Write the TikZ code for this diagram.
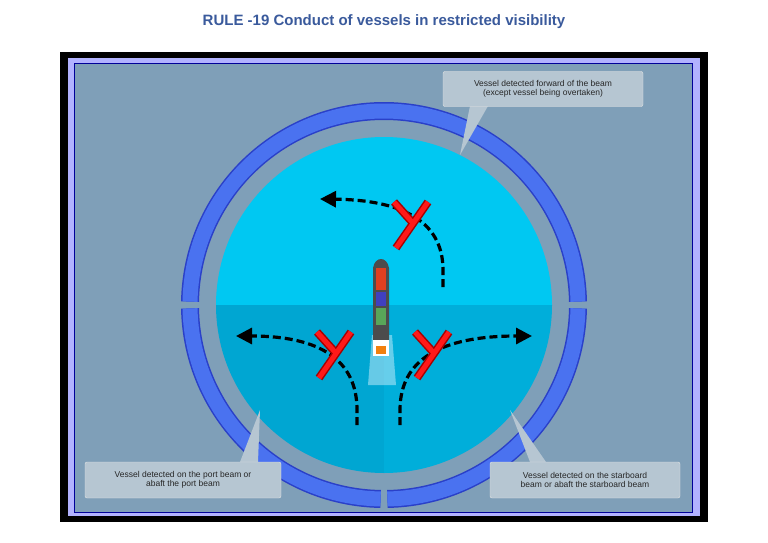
\documentclass[tikz,border=0pt]{standalone}
\usepackage{fontspec}
\setmainfont{Liberation Sans}
\usetikzlibrary{arrows.meta,calc}
\definecolor{panel}{HTML}{7F9FB8}
\definecolor{ring}{HTML}{4A72F0}
\definecolor{ringd}{HTML}{2A40C8}
\definecolor{seaup}{HTML}{00C8F2}
\definecolor{sealo}{HTML}{00A6D2}
\definecolor{sealo2}{HTML}{00AEDA}
\definecolor{callf}{HTML}{B6C6D2}
\definecolor{titlec}{HTML}{3A5A9C}
\tikzset{
  callout/.style={fill=callf,draw=white!80!gray,rounded corners=2pt,font=\fontsize{8.5}{9.5}\selectfont,align=center,text=black!85},
  route/.style={line width=3.2pt,dash pattern=on 8pt off 4pt,-{Triangle[length=16pt,width=16pt]}},
  xred/.style={line width=8pt,draw=red!65!black,line cap=butt},
  xredi/.style={line width=5pt,draw=red!90!white,line cap=butt},
  ringseg/.style={line width=18pt,draw=ringd},
  ringsegi/.style={line width=15pt,draw=ring}
}
\begin{document}
\begin{tikzpicture}[x=1pt,y=-1pt]
\useasboundingbox[fill=white] (0,0) rectangle (768,543);
\node[font=\bfseries\fontsize{15}{17}\selectfont,text=titlec] (title) at (384,22) {RULE -19 Conduct of vessels in restricted visibility};
\fill[black] (60,52) rectangle (708,522);
\fill[white!70!blue] (68,58) rectangle (700,516);
\fill[panel,draw=blue!60!black,line width=1pt] (74,64) rectangle (692,512);
% ring
\coordinate (c) at (384,305);
\begin{scope}
\clip (68,58) rectangle (700,512);
\foreach \a/\b in {181/359, 1/89, 91/179}{
  \draw[ringseg] ($(c)+(\a:194)$) arc[start angle=\a,end angle=\b,radius=194];
  \draw[ringsegi] ($(c)+(\a:194)$) arc[start angle=\a,end angle=\b,radius=194];
}
\end{scope}
% sea
\fill[seaup] (216,305) arc[start angle=180,end angle=360,radius=168] -- cycle;
\fill[sealo] (216,305) arc[start angle=180,end angle=90,radius=168] -- (384,305) -- cycle;
\fill[sealo2] (384,305) -- (552,305) arc[start angle=0,end angle=90,radius=168] -- cycle;
% ship
\fill[white!80!cyan,opacity=0.5] (372,335) -- (392,335) -- (396,385) -- (368,385) -- cycle;
\fill[gray!60!black] (373,268) .. controls (375,256) and (387,256) .. (389,268) -- (389,340) -- (373,340) -- cycle;
\fill[red!50!brown] (376,268) rectangle (386,290);
\fill[blue!50!gray] (376,292) rectangle (386,306);
\fill[green!30!gray] (376,308) rectangle (386,325);
\fill[white] (373,340) rectangle (389,356);
\fill[orange!80!brown] (376,346) rectangle (386,354);
% routes
\coordinate (s1) at (443,287); \coordinate (e1) at (320,199);
\coordinate (s2) at (357,425); \coordinate (e2) at (236,336);
\coordinate (s3) at (400,425); \coordinate (e3) at (532,336);
\draw[route] (s1) -- (443,270) .. controls (443,220) and (400,200) .. (e1);
\draw[route] (s2) -- (357,410) .. controls (357,360) and (320,336) .. (e2);
\draw[route] (s3) -- (400,410) .. controls (400,360) and (440,336) .. (e3);
% red crosses
\foreach \x/\y in {410/220,333/350,431/350}{
  \draw[xred] (\x-16,\y-18) -- (\x+2,\y+2);
  \draw[xred] (\x+18,\y-18) -- (\x-14,\y+28);
  \draw[xredi] (\x-16,\y-18) -- (\x+2,\y+2);
  \draw[xredi] (\x+18,\y-18) -- (\x-14,\y+28);
}
% callouts
\fill[callf] (470,106) -- (460,155) -- (488,106) -- cycle;
\node[callout,minimum width=200pt,minimum height=35pt] (cA) at (543,89) {Vessel detected forward of the beam\\(except vessel being overtaken)};
\fill[callf] (240,462) -- (260,410) -- (258,462) -- cycle;
\node[callout,minimum width=196pt,minimum height=36pt] (cB) at (183,480) {Vessel detected on the port beam or\\abaft the port beam};
\fill[callf] (530,462) -- (510,410) -- (546,462) -- cycle;
\node[callout,minimum width=190pt,minimum height=36pt] (cC) at (585,480) {Vessel detected on the starboard\\beam or abaft the starboard beam};
\end{tikzpicture}
\end{document}
